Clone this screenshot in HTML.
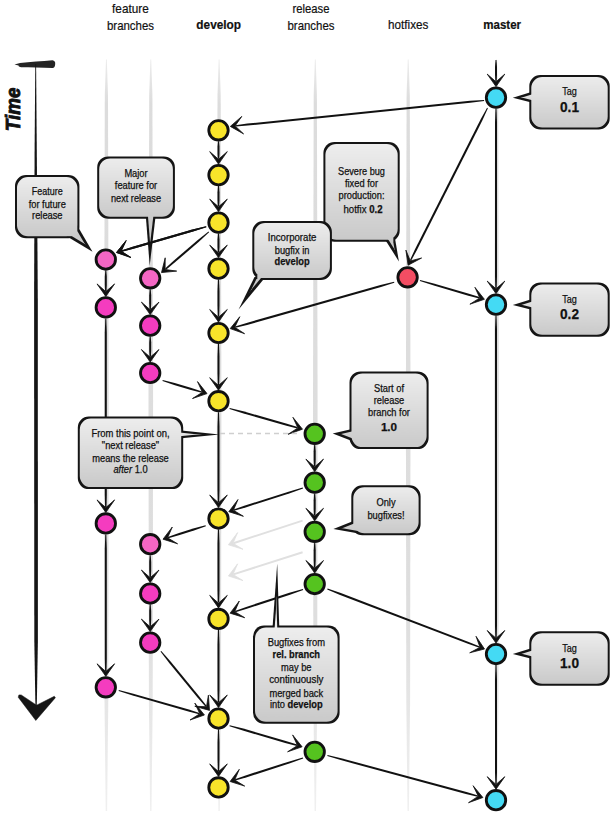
<!DOCTYPE html>
<html><head><meta charset="utf-8"><style>
html,body{margin:0;padding:0;background:#fff;width:611px;height:815px;overflow:hidden}
svg{display:block}
text{font-family:"Liberation Sans",sans-serif;fill:#111}
.ct{stroke:#111;stroke-width:0.25}
.hd{stroke:#111;stroke-width:0.2}
</style></head><body>
<svg width="611" height="815" viewBox="0 0 611 815">
<defs><filter id="erode" filterUnits="userSpaceOnUse" x="0" y="0" width="611" height="815"><feMorphology operator="erode" radius="2.0"/></filter><linearGradient id="lg" gradientUnits="userSpaceOnUse" x1="0" y1="59" x2="0" y2="812"><stop offset="0" stop-color="#ececec"/><stop offset="0.06" stop-color="#dcdcdc"/><stop offset="0.75" stop-color="#dedede"/><stop offset="1" stop-color="#f0f0f0"/></linearGradient></defs>
<rect width="611" height="815" fill="#fff"/>
<polygon points="106,59.5 106.8,59.5 108,95 108.7,400 108.3,700 107.1,811 105.7,811 104.5,700 104.1,400 104.8,95" fill="url(#lg)"/><polygon points="150.4,59.5 151.2,59.5 152.4,95 153.1,400 152.7,700 151.5,811 150.1,811 148.9,700 148.5,400 149.2,95" fill="url(#lg)"/><polygon points="218.7,59.5 219.5,59.5 220.7,95 221.4,400 221,700 219.8,811 218.4,811 217.2,700 216.8,400 217.5,95" fill="url(#lg)"/><polygon points="314.9,59.5 315.7,59.5 316.9,95 317.6,400 317.2,700 316,811 314.6,811 313.4,700 313,400 313.7,95" fill="url(#lg)"/><polygon points="407.8,59.5 408.6,59.5 409.8,95 410.5,400 410.1,700 408.9,811 407.5,811 406.3,700 405.9,400 406.6,95" fill="url(#lg)"/><polygon points="496.2,59.5 497,59.5 498.2,95 498.9,400 498.5,700 497.3,811 495.9,811 494.7,700 494.3,400 495,95" fill="url(#lg)"/>
<text class="hd" x="130.4" y="12.8" text-anchor="middle" font-size="12.6" textLength="36.6" lengthAdjust="spacingAndGlyphs">feature</text><text class="hd" x="130.5" y="29.5" text-anchor="middle" font-size="12.6" textLength="47" lengthAdjust="spacingAndGlyphs">branches</text><text class="hd" x="218.7" y="28.7" text-anchor="middle" font-size="12.6" font-weight="bold" textLength="44.7" lengthAdjust="spacingAndGlyphs">develop</text><text class="hd" x="311" y="12.8" text-anchor="middle" font-size="12.6" textLength="37" lengthAdjust="spacingAndGlyphs">release</text><text class="hd" x="311" y="29.5" text-anchor="middle" font-size="12.6" textLength="47" lengthAdjust="spacingAndGlyphs">branches</text><text class="hd" x="408.2" y="28.7" text-anchor="middle" font-size="12.6" textLength="40.3" lengthAdjust="spacingAndGlyphs">hotfixes</text><text class="hd" x="502.2" y="28.7" text-anchor="middle" font-size="12.6" font-weight="bold" textLength="37.8" lengthAdjust="spacingAndGlyphs">master</text>
<g><path d="M14.5,64.4 L20,63 C30,62 42,61 52.5,60.2 Q55.5,60.8 55.2,64 Q55,67.8 52.5,68 C42,67.6 30,67.3 21,67.2 Q18,66.6 18.5,65.6Z" fill="#242424"/><polygon points="35.3,64 36.1,64 36.8,150 37.8,300 37.9,640 36.9,700 36.5,712 35.7,712 35.3,700 34.3,640 34.1,300 34.6,150" fill="#151515"/><polygon points="35.8,720.5 18.2,697.2 18.9,694.9 21.2,694.9 36.6,705.2 54.3,696.3 55.4,697.7" fill="#151515" stroke="#151515" stroke-width="0.5" stroke-linejoin="round"/><text transform="translate(20.4,131.2) rotate(-90)" font-weight="bold" font-style="italic" font-size="21" textLength="43.6" lengthAdjust="spacingAndGlyphs" fill="#111" stroke="#111" stroke-width="0.9">Time</text>
<polygon points="495.5,60 495,66.4 495,74.9 495.3,81.3 496.7,81.3 497,74.9 497,66.4 496.5,60" fill="#111"/><polygon points="496,86.6 487.2,74.1 496,81.8 504.8,74.1" fill="#111" stroke="#111" stroke-width="0.8" stroke-linejoin="miter"/><polygon points="495.5,108.6 495,122.6 495,276.3 495.3,288.3 496.7,288.3 497,276.3 497,122.6 496.5,108.6" fill="#111"/><polygon points="496,293.6 487.2,281.1 496,288.8 504.8,281.1" fill="#111" stroke="#111" stroke-width="0.8" stroke-linejoin="miter"/><polygon points="495.5,315.6 495,329.6 495,625.7 495.3,637.7 496.7,637.7 497,625.7 497,329.6 496.5,315.6" fill="#111"/><polygon points="496,643 487.2,630.5 496,638.2 504.8,630.5" fill="#111" stroke="#111" stroke-width="0.8" stroke-linejoin="miter"/><polygon points="495.5,665 495,679 495,771.9 495.3,783.9 496.7,783.9 497,771.9 497,679 496.5,665" fill="#111"/><polygon points="496,789.2 487.2,776.7 496,784.4 504.8,776.7" fill="#111" stroke="#111" stroke-width="0.8" stroke-linejoin="miter"/><polygon points="484,99.9 470.1,100.8 247.4,123.6 235.5,125.2 235.6,126.6 247.6,125.6 470.3,102.8 484.2,100.9" fill="#111"/><polygon points="230.3,126.4 241.8,116.4 235.1,125.9 243.6,133.9" fill="#111" stroke="#111" stroke-width="0.8" stroke-linejoin="miter"/><polygon points="487.1,107.8 480.3,120 415,249.3 409.9,260.2 411.1,260.8 416.8,250.2 482.1,121 487.9,108.2" fill="#111"/><polygon points="408.1,265.2 405.9,250.1 410.3,260.9 421.6,258" fill="#111" stroke="#111" stroke-width="0.8" stroke-linejoin="miter"/><polygon points="419.9,280.9 433.1,285.3 467.5,295.4 479.1,298.5 479.5,297.1 468.1,293.5 433.7,283.4 420.1,279.9" fill="#111"/><polygon points="484.4,299.3 469.9,304.2 479.8,297.9 474.9,287.3" fill="#111" stroke="#111" stroke-width="0.8" stroke-linejoin="miter"/><polygon points="394.1,281.7 380.5,285 246.6,322.9 235.1,326.5 235.5,327.8 247.1,324.9 381,287 394.3,282.7" fill="#111"/><polygon points="230.2,328.6 239.8,316.7 234.8,327.3 244.6,333.7" fill="#111" stroke="#111" stroke-width="0.8" stroke-linejoin="miter"/><polygon points="218,141.3 217.5,146.6 217.5,153.5 217.8,158.8 219.2,158.8 219.5,153.5 219.5,146.6 219,141.3" fill="#111"/><polygon points="218.5,164.1 209.7,151.6 218.5,159.3 227.3,151.6" fill="#111" stroke="#111" stroke-width="0.8" stroke-linejoin="miter"/><polygon points="218,186.1 217.5,192.2 217.5,200.2 217.8,206.3 219.2,206.3 219.5,200.2 219.5,192.2 219,186.1" fill="#111"/><polygon points="218.5,211.6 209.7,199.1 218.5,206.8 227.3,199.1" fill="#111" stroke="#111" stroke-width="0.8" stroke-linejoin="miter"/><polygon points="218,233.6 217.5,239.2 217.5,246.7 217.8,252.3 219.2,252.3 219.5,246.7 219.5,239.2 219,233.6" fill="#111"/><polygon points="218.5,257.6 209.7,245.1 218.5,252.8 227.3,245.1" fill="#111" stroke="#111" stroke-width="0.8" stroke-linejoin="miter"/><polygon points="218,279.6 217.5,290.7 217.5,305.6 217.8,316.7 219.2,316.7 219.5,305.6 219.5,290.7 219,279.6" fill="#111"/><polygon points="218.5,322 209.7,309.5 218.5,317.2 227.3,309.5" fill="#111" stroke="#111" stroke-width="0.8" stroke-linejoin="miter"/><polygon points="218,344 217.5,356.3 217.5,372.9 217.8,384.9 219.2,384.9 219.5,372.9 219.5,356.3 219,344" fill="#111"/><polygon points="218.5,390.2 209.7,377.7 218.5,385.4 227.3,377.7" fill="#111" stroke="#111" stroke-width="0.8" stroke-linejoin="miter"/><polygon points="218,412.2 217.5,426.2 217.5,490.2 217.8,502.2 219.2,502.2 219.5,490.2 219.5,426.2 219,412.2" fill="#111"/><polygon points="218.5,507.5 209.7,495 218.5,502.7 227.3,495" fill="#111" stroke="#111" stroke-width="0.8" stroke-linejoin="miter"/><polygon points="218,529.5 217.5,543.5 217.5,590.6 217.8,602.6 219.2,602.6 219.5,590.6 219.5,543.5 219,529.5" fill="#111"/><polygon points="218.5,607.9 209.7,595.4 218.5,603.1 227.3,595.4" fill="#111" stroke="#111" stroke-width="0.8" stroke-linejoin="miter"/><polygon points="218,629.9 217.5,643.9 217.5,690.2 217.8,702.2 219.2,702.2 219.5,690.2 219.5,643.9 219,629.9" fill="#111"/><polygon points="218.5,707.5 209.7,695 218.5,702.7 227.3,695" fill="#111" stroke="#111" stroke-width="0.8" stroke-linejoin="miter"/><polygon points="218,729.5 217.5,742 217.5,759.1 217.8,771.1 219.2,771.1 219.5,759.1 219.5,742 219,729.5" fill="#111"/><polygon points="218.5,776.4 209.7,763.9 218.5,771.6 227.3,763.9" fill="#111" stroke="#111" stroke-width="0.8" stroke-linejoin="miter"/><polygon points="206.1,226.2 192.5,229.6 132.8,246.7 121.4,250.4 121.8,251.7 133.4,248.7 193,231.5 206.3,227.2" fill="#111"/><polygon points="116.5,252.5 126.1,240.6 121.1,251.2 130.9,257.5" fill="#111" stroke="#111" stroke-width="0.8" stroke-linejoin="miter"/><polygon points="208.5,231.4 197.5,240.2 173.9,260.5 165.1,268.6 166,269.7 175.3,262.1 198.9,241.7 209.1,232.2" fill="#111"/><polygon points="161.5,272.6 165.2,257.8 165.1,269.5 176.7,271.1" fill="#111" stroke="#111" stroke-width="0.8" stroke-linejoin="miter"/><polygon points="105.3,270.5 104.8,276.7 104.8,284.9 105.1,291.1 106.5,291.1 106.8,284.9 106.8,276.7 106.3,270.5" fill="#111"/><polygon points="105.8,296.4 97,283.9 105.8,291.6 114.6,283.9" fill="#111" stroke="#111" stroke-width="0.8" stroke-linejoin="miter"/><polygon points="105.3,318.4 104.8,332.4 104.8,495.1 105.1,507.1 106.5,507.1 106.8,495.1 106.8,332.4 106.3,318.4" fill="#111"/><polygon points="105.8,512.4 97,499.9 105.8,507.6 114.6,499.9" fill="#111" stroke="#111" stroke-width="0.8" stroke-linejoin="miter"/><polygon points="105.3,534.4 104.8,548.4 104.8,659 105.1,671 106.5,671 106.8,659 106.8,548.4 106.3,534.4" fill="#111"/><polygon points="105.8,676.3 97,663.8 105.8,671.5 114.6,663.8" fill="#111" stroke="#111" stroke-width="0.8" stroke-linejoin="miter"/><polygon points="118.6,691 131.9,695.3 187.5,711.2 199.1,714.2 199.5,712.9 188,709.3 132.4,693.4 118.8,690" fill="#111"/><polygon points="204.4,715 190,720 199.8,713.7 194.8,703.1" fill="#111" stroke="#111" stroke-width="0.8" stroke-linejoin="miter"/><polygon points="149.7,289.3 149.2,295.3 149.2,303.3 149.5,309.3 150.9,309.3 151.2,303.3 151.2,295.3 150.7,289.3" fill="#111"/><polygon points="150.2,314.6 141.4,302.1 150.2,309.8 159,302.1" fill="#111" stroke="#111" stroke-width="0.8" stroke-linejoin="miter"/><polygon points="149.7,336.6 149.2,342.6 149.2,350.7 149.5,356.7 150.9,356.7 151.2,350.7 151.2,342.6 150.7,336.6" fill="#111"/><polygon points="150.2,362 141.4,349.5 150.2,357.2 159,349.5" fill="#111" stroke="#111" stroke-width="0.8" stroke-linejoin="miter"/><polygon points="162.5,381.1 174.1,385 190.1,389.7 201.7,392.8 202.1,391.4 190.7,387.8 174.7,383.1 162.7,380.1" fill="#111"/><polygon points="207,393.6 192.5,398.5 202.4,392.3 197.5,381.6" fill="#111" stroke="#111" stroke-width="0.8" stroke-linejoin="miter"/><polygon points="205.5,525.2 194.1,528.3 179,533.1 167.8,536.9 168.3,538.3 179.7,535 194.7,530.2 205.9,526.2" fill="#111"/><polygon points="163,539.2 172.3,527 167.6,537.8 177.6,543.8" fill="#111" stroke="#111" stroke-width="0.8" stroke-linejoin="miter"/><polygon points="149.7,555.2 149.2,561.8 149.2,570.6 149.5,577.2 150.9,577.2 151.2,570.6 151.2,561.8 150.7,555.2" fill="#111"/><polygon points="150.2,582.5 141.4,570 150.2,577.7 159,570" fill="#111" stroke="#111" stroke-width="0.8" stroke-linejoin="miter"/><polygon points="149.7,604.5 149.2,611 149.2,619.8 149.5,626.3 150.9,626.3 151.2,619.8 151.2,611 150.7,604.5" fill="#111"/><polygon points="150.2,631.6 141.4,619.1 150.2,626.8 159,619.1" fill="#111" stroke="#111" stroke-width="0.8" stroke-linejoin="miter"/><polygon points="160.5,651.5 169,662.7 197.7,697.7 205.6,706.7 206.7,705.9 199.3,696.4 170.6,661.4 161.3,650.9" fill="#111"/><polygon points="209.5,710.4 194.8,706.3 206.5,706.7 208.4,695.2" fill="#111" stroke="#111" stroke-width="0.8" stroke-linejoin="miter"/><polygon points="229.5,409 242.8,413.3 285.6,425.5 297.2,428.4 297.6,427.1 286.1,423.5 243.3,411.3 229.7,408" fill="#111"/><polygon points="302.5,429.2 288.1,434.3 297.9,427.9 292.9,417.3" fill="#111" stroke="#111" stroke-width="0.8" stroke-linejoin="miter"/><polygon points="314.2,444.8 313.7,451.2 313.7,459.9 314,466.3 315.4,466.3 315.7,459.9 315.7,451.2 315.2,444.8" fill="#111"/><polygon points="314.7,471.6 305.9,459.1 314.7,466.8 323.5,459.1" fill="#111" stroke="#111" stroke-width="0.8" stroke-linejoin="miter"/><polygon points="314.2,493.6 313.7,500.2 313.7,508.9 314,515.5 315.4,515.5 315.7,508.9 315.7,500.2 315.2,493.6" fill="#111"/><polygon points="314.7,520.8 305.9,508.3 314.7,516 323.5,508.3" fill="#111" stroke="#111" stroke-width="0.8" stroke-linejoin="miter"/><polygon points="314.2,542.8 313.7,550.3 313.7,560.2 314,567.7 315.4,567.7 315.7,560.2 315.7,550.3 315.2,542.8" fill="#111"/><polygon points="314.7,573 305.9,560.5 314.7,568.2 323.5,560.5" fill="#111" stroke="#111" stroke-width="0.8" stroke-linejoin="miter"/><polygon points="302.7,487.6 289.3,491.4 245,505.5 233.6,509.4 234.1,510.8 245.6,507.4 289.9,493.3 303.1,488.6" fill="#111"/><polygon points="228.8,511.7 238,499.5 233.4,510.2 243.4,516.3" fill="#111" stroke="#111" stroke-width="0.8" stroke-linejoin="miter"/><polygon points="302.8,588.9 289.4,592.8 246.2,606.9 234.9,610.9 235.4,612.2 246.9,608.8 290,594.7 303.2,589.9" fill="#111"/><polygon points="230.1,613.2 239.3,601 234.7,611.7 244.7,617.7" fill="#111" stroke="#111" stroke-width="0.8" stroke-linejoin="miter"/><polygon points="327.2,589.5 340.1,594.9 468,643.8 479.3,647.8 479.8,646.5 468.7,641.9 340.8,593 327.6,588.5" fill="#111"/><polygon points="484.5,649 469.7,652.8 480,647.3 476,636.3" fill="#111" stroke="#111" stroke-width="0.8" stroke-linejoin="miter"/><polygon points="229.5,726.2 242.8,730.6 285.2,742.9 296.8,746 297.2,744.6 285.8,741 243.3,728.6 229.7,725.2" fill="#111"/><polygon points="302.1,746.8 287.6,751.8 297.5,745.5 292.6,734.9" fill="#111" stroke="#111" stroke-width="0.8" stroke-linejoin="miter"/><polygon points="302.8,757.6 289.4,761.4 246.3,775.2 234.9,779.2 235.4,780.5 246.9,777.2 290,763.3 303.2,758.6" fill="#111"/><polygon points="230.1,781.5 239.3,769.3 234.7,780 244.7,786.1" fill="#111" stroke="#111" stroke-width="0.8" stroke-linejoin="miter"/><polygon points="327.3,756 340.7,760.1 465.9,794 477.6,796.8 478,795.4 466.5,792 341.2,758.2 327.5,755" fill="#111"/><polygon points="482.9,797.5 468.5,802.7 478.3,796.2 473.1,785.7" fill="#111" stroke="#111" stroke-width="0.8" stroke-linejoin="miter"/><line x1="302.6" y1="520.6" x2="233.4" y2="543.2" stroke="#e0e0e0" stroke-width="2"/><polygon points="228.4,544.8 237.6,532.6 233,543.3 243,549.3" fill="#e0e0e0" stroke="#e0e0e0" stroke-width="0.8" stroke-linejoin="miter"/><line x1="302.6" y1="552.2" x2="233.4" y2="574.4" stroke="#e0e0e0" stroke-width="2"/><polygon points="228.4,576 237.6,563.8 233,574.5 243,580.6" fill="#e0e0e0" stroke="#e0e0e0" stroke-width="0.8" stroke-linejoin="miter"/><line x1="220" y1="433.5" x2="300" y2="433.5" stroke="#cfcfcf" stroke-width="1.6" stroke-dasharray="5,4"/>
<circle cx="496" cy="97.6" r="9.7" fill="#44daf4" stroke="#111" stroke-width="2.85"/><circle cx="496" cy="304.6" r="9.7" fill="#44daf4" stroke="#111" stroke-width="2.85"/><circle cx="496" cy="654" r="9.7" fill="#44daf4" stroke="#111" stroke-width="2.85"/><circle cx="496" cy="800.2" r="9.7" fill="#44daf4" stroke="#111" stroke-width="2.85"/><circle cx="407.6" cy="277.3" r="9.7" fill="#f34d63" stroke="#111" stroke-width="2.85"/><circle cx="218.5" cy="130.3" r="9.7" fill="#f8e42a" stroke="#111" stroke-width="2.85"/><circle cx="218.5" cy="175.1" r="9.7" fill="#f8e42a" stroke="#111" stroke-width="2.85"/><circle cx="218.5" cy="222.6" r="9.7" fill="#f8e42a" stroke="#111" stroke-width="2.85"/><circle cx="218.5" cy="268.6" r="9.7" fill="#f8e42a" stroke="#111" stroke-width="2.85"/><circle cx="218.5" cy="333" r="9.7" fill="#f8e42a" stroke="#111" stroke-width="2.85"/><circle cx="218.5" cy="401.2" r="9.7" fill="#f8e42a" stroke="#111" stroke-width="2.85"/><circle cx="218.5" cy="518.5" r="9.7" fill="#f8e42a" stroke="#111" stroke-width="2.85"/><circle cx="218.5" cy="618.9" r="9.7" fill="#f8e42a" stroke="#111" stroke-width="2.85"/><circle cx="218.5" cy="718.5" r="9.7" fill="#f8e42a" stroke="#111" stroke-width="2.85"/><circle cx="218.5" cy="787.4" r="9.7" fill="#f8e42a" stroke="#111" stroke-width="2.85"/><circle cx="314.7" cy="433.8" r="9.7" fill="#55c31f" stroke="#111" stroke-width="2.85"/><circle cx="314.7" cy="482.6" r="9.7" fill="#55c31f" stroke="#111" stroke-width="2.85"/><circle cx="314.7" cy="531.8" r="9.7" fill="#55c31f" stroke="#111" stroke-width="2.85"/><circle cx="314.7" cy="584" r="9.7" fill="#55c31f" stroke="#111" stroke-width="2.85"/><circle cx="314.7" cy="751.8" r="9.7" fill="#55c31f" stroke="#111" stroke-width="2.85"/><circle cx="105.8" cy="259.5" r="9.7" fill="#f466c4" stroke="#111" stroke-width="2.85"/><circle cx="105.8" cy="307.4" r="9.7" fill="#f43cbf" stroke="#111" stroke-width="2.85"/><circle cx="105.8" cy="523.4" r="9.7" fill="#f43cbf" stroke="#111" stroke-width="2.85"/><circle cx="105.8" cy="687.3" r="9.7" fill="#f43cbf" stroke="#111" stroke-width="2.85"/><circle cx="150.2" cy="278.3" r="9.7" fill="#f466c4" stroke="#111" stroke-width="2.85"/><circle cx="150.2" cy="325.6" r="9.7" fill="#f43cbf" stroke="#111" stroke-width="2.85"/><circle cx="150.2" cy="373" r="9.7" fill="#f43cbf" stroke="#111" stroke-width="2.85"/><circle cx="150.2" cy="544.2" r="9.7" fill="#f466c4" stroke="#111" stroke-width="2.85"/><circle cx="150.2" cy="593.5" r="9.7" fill="#f43cbf" stroke="#111" stroke-width="2.85"/><circle cx="150.2" cy="642.6" r="9.7" fill="#f43cbf" stroke="#111" stroke-width="2.85"/></g>
<linearGradient id="g1" gradientUnits="userSpaceOnUse" x1="0" y1="75" x2="0" y2="129.4"><stop offset="0" stop-color="#efefef"/><stop offset="1" stop-color="#cacaca"/></linearGradient><path d="M540.3,75 H598.7 A11,11 0 0 1 609.7,86 V118.4 A11,11 0 0 1 598.7,129.4 H540.3 A11,11 0 0 1 529.3,118.4 V86 A11,11 0 0 1 540.3,75Z" fill="#151515"/><path d="M530.5,92.2 L512.8,97.7 L530.5,102.2Z" fill="#151515"/><g filter="url(#erode)"><path d="M540.3,75 H598.7 A11,11 0 0 1 609.7,86 V118.4 A11,11 0 0 1 598.7,129.4 H540.3 A11,11 0 0 1 529.3,118.4 V86 A11,11 0 0 1 540.3,75Z" fill="url(#g1)"/><path d="M530.5,92.2 L512.8,97.7 L530.5,102.2Z" fill="url(#g1)"/></g><text class="ct" x="569.5" y="95.2" text-anchor="middle" font-size="10" textLength="14.60" lengthAdjust="spacingAndGlyphs">Tag</text><text class="ct" x="569.5" y="111.8" text-anchor="middle" font-size="14" textLength="19.00" lengthAdjust="spacingAndGlyphs"><tspan font-weight="bold" font-size="14">0.1</tspan></text><linearGradient id="g2" gradientUnits="userSpaceOnUse" x1="0" y1="282.4" x2="0" y2="336.8"><stop offset="0" stop-color="#efefef"/><stop offset="1" stop-color="#cacaca"/></linearGradient><path d="M540.3,282.4 H598.7 A11,11 0 0 1 609.7,293.4 V325.8 A11,11 0 0 1 598.7,336.8 H540.3 A11,11 0 0 1 529.3,325.8 V293.4 A11,11 0 0 1 540.3,282.4Z" fill="#151515"/><path d="M530.5,299.6 L512.8,305.1 L530.5,309.6Z" fill="#151515"/><g filter="url(#erode)"><path d="M540.3,282.4 H598.7 A11,11 0 0 1 609.7,293.4 V325.8 A11,11 0 0 1 598.7,336.8 H540.3 A11,11 0 0 1 529.3,325.8 V293.4 A11,11 0 0 1 540.3,282.4Z" fill="url(#g2)"/><path d="M530.5,299.6 L512.8,305.1 L530.5,309.6Z" fill="url(#g2)"/></g><text class="ct" x="569.5" y="302.6" text-anchor="middle" font-size="10" textLength="14.60" lengthAdjust="spacingAndGlyphs">Tag</text><text class="ct" x="569.5" y="319.2" text-anchor="middle" font-size="14" textLength="19.00" lengthAdjust="spacingAndGlyphs"><tspan font-weight="bold" font-size="14">0.2</tspan></text><linearGradient id="g3" gradientUnits="userSpaceOnUse" x1="0" y1="631.3" x2="0" y2="685.7"><stop offset="0" stop-color="#efefef"/><stop offset="1" stop-color="#cacaca"/></linearGradient><path d="M540.3,631.3 H598.7 A11,11 0 0 1 609.7,642.3 V674.7 A11,11 0 0 1 598.7,685.7 H540.3 A11,11 0 0 1 529.3,674.7 V642.3 A11,11 0 0 1 540.3,631.3Z" fill="#151515"/><path d="M530.5,648.5 L512.8,654 L530.5,658.5Z" fill="#151515"/><g filter="url(#erode)"><path d="M540.3,631.3 H598.7 A11,11 0 0 1 609.7,642.3 V674.7 A11,11 0 0 1 598.7,685.7 H540.3 A11,11 0 0 1 529.3,674.7 V642.3 A11,11 0 0 1 540.3,631.3Z" fill="url(#g3)"/><path d="M530.5,648.5 L512.8,654 L530.5,658.5Z" fill="url(#g3)"/></g><text class="ct" x="569.5" y="651.5" text-anchor="middle" font-size="10" textLength="14.60" lengthAdjust="spacingAndGlyphs">Tag</text><text class="ct" x="569.5" y="668.1" text-anchor="middle" font-size="14" textLength="19.00" lengthAdjust="spacingAndGlyphs"><tspan font-weight="bold" font-size="14">1.0</tspan></text><linearGradient id="g4" gradientUnits="userSpaceOnUse" x1="0" y1="175" x2="0" y2="238.2"><stop offset="0" stop-color="#efefef"/><stop offset="1" stop-color="#cacaca"/></linearGradient><path d="M26,175 H68.4 A11,11 0 0 1 79.4,186 V227.2 A11,11 0 0 1 68.4,238.2 H26 A11,11 0 0 1 15,227.2 V186 A11,11 0 0 1 26,175Z" fill="#151515"/><path d="M67.5,236.8 L92.5,251.8 L77.8,226.5Z" fill="#151515"/><g filter="url(#erode)"><path d="M26,175 H68.4 A11,11 0 0 1 79.4,186 V227.2 A11,11 0 0 1 68.4,238.2 H26 A11,11 0 0 1 15,227.2 V186 A11,11 0 0 1 26,175Z" fill="url(#g4)"/><path d="M67.5,236.8 L92.5,251.8 L77.8,226.5Z" fill="url(#g4)"/></g><text class="ct" x="47.3" y="194.7" text-anchor="middle" font-size="10.0" textLength="30.90" lengthAdjust="spacingAndGlyphs">Feature</text><text class="ct" x="47.3" y="207.6" text-anchor="middle" font-size="10.0" textLength="37.21" lengthAdjust="spacingAndGlyphs">for future</text><text class="ct" x="47.3" y="219.3" text-anchor="middle" font-size="10.0" textLength="30.50" lengthAdjust="spacingAndGlyphs">release</text><linearGradient id="g5" gradientUnits="userSpaceOnUse" x1="0" y1="156.4" x2="0" y2="218.7"><stop offset="0" stop-color="#efefef"/><stop offset="1" stop-color="#cacaca"/></linearGradient><path d="M108.2,156.4 H163.9 A11,11 0 0 1 174.9,167.4 V207.7 A11,11 0 0 1 163.9,218.7 H108.2 A11,11 0 0 1 97.2,207.7 V167.4 A11,11 0 0 1 108.2,156.4Z" fill="#151515"/><path d="M145.8,216 L149.7,265.6 L155.6,216Z" fill="#151515"/><g filter="url(#erode)"><path d="M108.2,156.4 H163.9 A11,11 0 0 1 174.9,167.4 V207.7 A11,11 0 0 1 163.9,218.7 H108.2 A11,11 0 0 1 97.2,207.7 V167.4 A11,11 0 0 1 108.2,156.4Z" fill="url(#g5)"/><path d="M145.8,216 L149.7,265.6 L155.6,216Z" fill="url(#g5)"/></g><text class="ct" x="136" y="177.2" text-anchor="middle" font-size="10.0" textLength="23.25" lengthAdjust="spacingAndGlyphs">Major</text><text class="ct" x="136" y="189" text-anchor="middle" font-size="10.0" textLength="42.39" lengthAdjust="spacingAndGlyphs">feature for</text><text class="ct" x="136" y="201.6" text-anchor="middle" font-size="10.0" textLength="50.20" lengthAdjust="spacingAndGlyphs">next release</text><linearGradient id="g6" gradientUnits="userSpaceOnUse" x1="0" y1="142" x2="0" y2="241.7"><stop offset="0" stop-color="#efefef"/><stop offset="1" stop-color="#cacaca"/></linearGradient><path d="M334.4,142 H388.7 A11,11 0 0 1 399.7,153 V230.7 A11,11 0 0 1 388.7,241.7 H334.4 A11,11 0 0 1 323.4,230.7 V153 A11,11 0 0 1 334.4,142Z" fill="#151515"/><path d="M385,239.5 L398.9,261.4 L394.6,236Z" fill="#151515"/><g filter="url(#erode)"><path d="M334.4,142 H388.7 A11,11 0 0 1 399.7,153 V230.7 A11,11 0 0 1 388.7,241.7 H334.4 A11,11 0 0 1 323.4,230.7 V153 A11,11 0 0 1 334.4,142Z" fill="url(#g6)"/><path d="M385,239.5 L398.9,261.4 L394.6,236Z" fill="url(#g6)"/></g><text class="ct" x="361.5" y="174.9" text-anchor="middle" font-size="10.0" textLength="46.90" lengthAdjust="spacingAndGlyphs">Severe bug</text><text class="ct" x="361.5" y="187.4" text-anchor="middle" font-size="10.0" textLength="33.08" lengthAdjust="spacingAndGlyphs">fixed for</text><text class="ct" x="361.5" y="199.4" text-anchor="middle" font-size="10.0" textLength="46.01" lengthAdjust="spacingAndGlyphs">production:</text><text class="ct" x="363" y="212.7" text-anchor="middle" font-size="10.0" textLength="39.00" lengthAdjust="spacingAndGlyphs">hotfix <tspan font-weight="bold">0.2</tspan></text><linearGradient id="g7" gradientUnits="userSpaceOnUse" x1="0" y1="221.1" x2="0" y2="280"><stop offset="0" stop-color="#efefef"/><stop offset="1" stop-color="#cacaca"/></linearGradient><path d="M263.3,221.1 H320.9 A11,11 0 0 1 331.9,232.1 V269 A11,11 0 0 1 320.9,280 H263.3 A11,11 0 0 1 252.3,269 V232.1 A11,11 0 0 1 263.3,221.1Z" fill="#151515"/><path d="M254.5,277 L238.6,309.5 L265.5,277Z" fill="#151515"/><g filter="url(#erode)"><path d="M263.3,221.1 H320.9 A11,11 0 0 1 331.9,232.1 V269 A11,11 0 0 1 320.9,280 H263.3 A11,11 0 0 1 252.3,269 V232.1 A11,11 0 0 1 263.3,221.1Z" fill="url(#g7)"/><path d="M254.5,277 L238.6,309.5 L265.5,277Z" fill="url(#g7)"/></g><text class="ct" x="292.1" y="241.1" text-anchor="middle" font-size="10.0" textLength="48.60" lengthAdjust="spacingAndGlyphs">Incorporate</text><text class="ct" x="292.1" y="253.7" text-anchor="middle" font-size="10.0" textLength="34.64" lengthAdjust="spacingAndGlyphs">bugfix in</text><text class="ct" x="292.1" y="265.4" text-anchor="middle" font-size="10.0" textLength="35.14" lengthAdjust="spacingAndGlyphs"><tspan font-weight="bold">develop</tspan></text><linearGradient id="g8" gradientUnits="userSpaceOnUse" x1="0" y1="371.4" x2="0" y2="449.1"><stop offset="0" stop-color="#efefef"/><stop offset="1" stop-color="#cacaca"/></linearGradient><path d="M360.5,371.4 H417.6 A11,11 0 0 1 428.6,382.4 V438.1 A11,11 0 0 1 417.6,449.1 H360.5 A11,11 0 0 1 349.5,438.1 V382.4 A11,11 0 0 1 360.5,371.4Z" fill="#151515"/><path d="M352,429 L332.7,433.5 L352,441Z" fill="#151515"/><g filter="url(#erode)"><path d="M360.5,371.4 H417.6 A11,11 0 0 1 428.6,382.4 V438.1 A11,11 0 0 1 417.6,449.1 H360.5 A11,11 0 0 1 349.5,438.1 V382.4 A11,11 0 0 1 360.5,371.4Z" fill="url(#g8)"/><path d="M352,429 L332.7,433.5 L352,441Z" fill="url(#g8)"/></g><text class="ct" x="389" y="391.5" text-anchor="middle" font-size="10.0" textLength="29.98" lengthAdjust="spacingAndGlyphs">Start of</text><text class="ct" x="389" y="403.7" text-anchor="middle" font-size="10.0" textLength="30.50" lengthAdjust="spacingAndGlyphs">release</text><text class="ct" x="389" y="416.2" text-anchor="middle" font-size="10.0" textLength="41.87" lengthAdjust="spacingAndGlyphs">branch for</text><text class="ct" x="389" y="431.3" text-anchor="middle" font-size="11.8" textLength="16.20" lengthAdjust="spacingAndGlyphs"><tspan font-weight="bold">1.0</tspan></text><linearGradient id="g9" gradientUnits="userSpaceOnUse" x1="0" y1="485.2" x2="0" y2="535.3"><stop offset="0" stop-color="#efefef"/><stop offset="1" stop-color="#cacaca"/></linearGradient><path d="M362.3,485.2 H409.6 A11,11 0 0 1 420.6,496.2 V524.3 A11,11 0 0 1 409.6,535.3 H362.3 A11,11 0 0 1 351.3,524.3 V496.2 A11,11 0 0 1 362.3,485.2Z" fill="#151515"/><path d="M354,520.7 L333.4,528.9 L356,533Z" fill="#151515"/><g filter="url(#erode)"><path d="M362.3,485.2 H409.6 A11,11 0 0 1 420.6,496.2 V524.3 A11,11 0 0 1 409.6,535.3 H362.3 A11,11 0 0 1 351.3,524.3 V496.2 A11,11 0 0 1 362.3,485.2Z" fill="url(#g9)"/><path d="M354,520.7 L333.4,528.9 L356,533Z" fill="url(#g9)"/></g><text class="ct" x="386" y="506.4" text-anchor="middle" font-size="10.0" textLength="19.12" lengthAdjust="spacingAndGlyphs">Only</text><text class="ct" x="386" y="518.5" text-anchor="middle" font-size="10.0" textLength="37.22" lengthAdjust="spacingAndGlyphs">bugfixes!</text><linearGradient id="g10" gradientUnits="userSpaceOnUse" x1="0" y1="416.5" x2="0" y2="489.1"><stop offset="0" stop-color="#efefef"/><stop offset="1" stop-color="#cacaca"/></linearGradient><path d="M88.8,416.5 H172.2 A11,11 0 0 1 183.2,427.5 V478.1 A11,11 0 0 1 172.2,489.1 H88.8 A11,11 0 0 1 77.8,478.1 V427.5 A11,11 0 0 1 88.8,416.5Z" fill="#151515"/><path d="M179,430.2 L219.5,434.6 L179,438.4Z" fill="#151515"/><g filter="url(#erode)"><path d="M88.8,416.5 H172.2 A11,11 0 0 1 183.2,427.5 V478.1 A11,11 0 0 1 172.2,489.1 H88.8 A11,11 0 0 1 77.8,478.1 V427.5 A11,11 0 0 1 88.8,416.5Z" fill="url(#g10)"/><path d="M179,430.2 L219.5,434.6 L179,438.4Z" fill="url(#g10)"/></g><text class="ct" x="130.5" y="437.3" text-anchor="middle" font-size="10.0" textLength="78.20" lengthAdjust="spacingAndGlyphs">From this point on,</text><text class="ct" x="130.5" y="448.9" text-anchor="middle" font-size="10.0" textLength="57.26" lengthAdjust="spacingAndGlyphs">"next release"</text><text class="ct" x="130.5" y="461.7" text-anchor="middle" font-size="10.0" textLength="76.51" lengthAdjust="spacingAndGlyphs">means the release</text><text class="ct" x="130.5" y="473.4" text-anchor="middle" font-size="10.0" textLength="34.12" lengthAdjust="spacingAndGlyphs"><tspan font-style="italic">after</tspan> 1.0</text><linearGradient id="g11" gradientUnits="userSpaceOnUse" x1="0" y1="625.6" x2="0" y2="723.7"><stop offset="0" stop-color="#efefef"/><stop offset="1" stop-color="#cacaca"/></linearGradient><path d="M264,625.6 H328.6 A11,11 0 0 1 339.6,636.6 V712.7 A11,11 0 0 1 328.6,723.7 H264 A11,11 0 0 1 253,712.7 V636.6 A11,11 0 0 1 264,625.6Z" fill="#151515"/><path d="M272.5,628 L277.2,563.6 L279.3,628Z" fill="#151515"/><g filter="url(#erode)"><path d="M264,625.6 H328.6 A11,11 0 0 1 339.6,636.6 V712.7 A11,11 0 0 1 328.6,723.7 H264 A11,11 0 0 1 253,712.7 V636.6 A11,11 0 0 1 264,625.6Z" fill="url(#g11)"/><path d="M272.5,628 L277.2,563.6 L279.3,628Z" fill="url(#g11)"/></g><text class="ct" x="296.3" y="646.2" text-anchor="middle" font-size="10.0" textLength="57.30" lengthAdjust="spacingAndGlyphs">Bugfixes from</text><text class="ct" x="296.3" y="658.4" text-anchor="middle" font-size="10.0" textLength="47.55" lengthAdjust="spacingAndGlyphs"><tspan font-weight="bold">rel. branch</tspan></text><text class="ct" x="296.3" y="670.9" text-anchor="middle" font-size="10.0" textLength="30.50" lengthAdjust="spacingAndGlyphs">may be</text><text class="ct" x="296.3" y="683.1" text-anchor="middle" font-size="10.0" textLength="54.30" lengthAdjust="spacingAndGlyphs">continuously</text><text class="ct" x="296.3" y="696.6" text-anchor="middle" font-size="10.0" textLength="53.76" lengthAdjust="spacingAndGlyphs">merged back</text><text class="ct" x="296.3" y="708.4" text-anchor="middle" font-size="10.0" textLength="52.72" lengthAdjust="spacingAndGlyphs">into <tspan font-weight="bold">develop</tspan></text>
<polygon points="206.1,226.2 192.5,229.6 132.8,246.7 121.4,250.4 121.8,251.7 133.4,248.7 193,231.5 206.3,227.2" fill="#111"/><polygon points="116.5,252.5 126.1,240.6 121.1,251.2 130.9,257.5" fill="#111" stroke="#111" stroke-width="0.8" stroke-linejoin="miter"/>
</svg></body></html>
